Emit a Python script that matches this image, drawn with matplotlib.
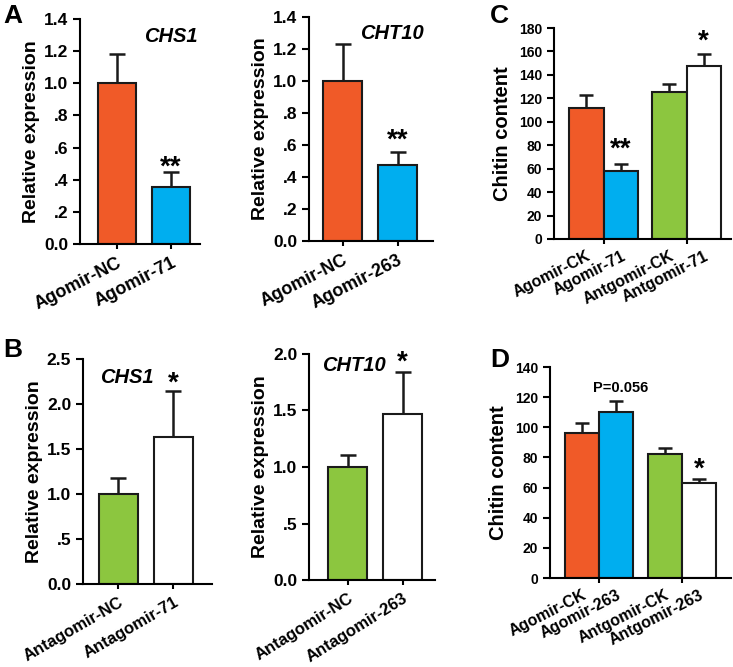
import matplotlib
matplotlib.use("Agg")
import matplotlib.pyplot as plt

plt.rcParams['font.family'] = ['Liberation Sans', 'DejaVu Sans']
plt.rcParams['font.weight'] = 'bold'
plt.rcParams['axes.labelweight'] = 'bold'
plt.rcParams['axes.linewidth'] = 1.5

ORANGE = '#F05A28'
BLUE = '#00AEEF'
GREEN = '#8CC63F'
WHITE = '#FFFFFF'

# panel A
a1_labels = ['Agomir-NC', 'Agomir-71']
a1_means = [1.0, 0.355]
a1_err = [0.18, 0.09]
a2_labels = ['Agomir-NC', 'Agomir-263']
a2_means = [1.0, 0.475]
a2_err = [0.23, 0.08]
a_ticks = [0.0, 0.2, 0.4, 0.6, 0.8, 1.0, 1.2, 1.4]
a_ticklabels = ['0.0', '.2', '.4', '.6', '.8', '1.0', '1.2', '1.4']

# panel B
b1_labels = ['Antagomir-NC', 'Antagomir-71']
b1_means = [1.0, 1.63]
b1_err = [0.18, 0.52]
b2_labels = ['Antagomir-NC', 'Antagomir-263']
b2_means = [1.0, 1.47]
b2_err = [0.11, 0.37]
b1_ticks = [0.0, 0.5, 1.0, 1.5, 2.0, 2.5]
b1_ticklabels = ['0.0', '.5', '1.0', '1.5', '2.0', '2.5']
b2_ticks = [0.0, 0.5, 1.0, 1.5, 2.0]
b2_ticklabels = ['0.0', '.5', '1.0', '1.5', '2.0']

# panel C / D
c_labels = ['Agomir-CK', 'Agomir-71', 'Antgomir-CK', 'Antgomir-71']
c_means = [112, 58, 125, 148]
c_err = [11, 6, 7, 10]
d_labels = ['Agomir-CK', 'Agomir-263', 'Antgomir-CK', 'Antgomir-263']
d_means = [96, 110.5, 82, 63]
d_err = [7, 7, 4, 3]

fig = plt.figure(figsize=(7.33, 6.67), dpi=100)


def style(ax):
    for s in ['top', 'right']:
        ax.spines[s].set_visible(False)
    ax.tick_params(axis='y', direction='out', length=5, width=1.5)


def two_bar(rect, labels, means, err, colors, ticks, ticklabels, xlim, ylim,
            gene, gene_xy, stars, star_xy, fs_x=13, rot=27):
    ax = fig.add_axes(rect)
    x = list(range(len(means)))
    ax.bar(x, means, width=0.71, color=colors, edgecolor='#1a1a1a', linewidth=1.5, zorder=2)
    ax.errorbar(x, means, yerr=[[0] * len(err), err], fmt='none', ecolor='#1a1a1a',
                elinewidth=1.8, capsize=5.5, capthick=1.8, zorder=1)
    ax.set_xlim(*xlim)
    ax.set_ylim(*ylim)
    ax.set_yticks(ticks)
    ax.set_yticklabels(ticklabels, fontsize=12.5)
    ax.set_xticks(x)
    ax.set_xticklabels(labels, rotation=rot, ha='right', rotation_mode='anchor', fontsize=fs_x)
    ax.tick_params(axis='x', direction='inout', length=7, width=1.5, pad=4)
    ax.set_ylabel('Relative expression', fontsize=14, labelpad=3)
    ax.text(gene_xy[0], gene_xy[1], gene, fontsize=14.5, style='italic', ha='center', va='center')
    ax.text(star_xy[0], star_xy[1], stars, fontsize=20, ha='center', va='baseline')
    style(ax)
    return ax


def four_bar(rect, labels, means, err, pos, xlim, ylim, ymax_tick):
    ax = fig.add_axes(rect)
    colors = [ORANGE, BLUE, GREEN, WHITE]
    ax.bar(pos, means, width=1.0, color=colors, edgecolor='#1a1a1a', linewidth=1.5, zorder=2)
    ax.errorbar(pos, means, yerr=[[0] * len(err), err], fmt='none', ecolor='#1a1a1a',
                elinewidth=1.8, capsize=5, capthick=1.8, zorder=1)
    ax.set_xlim(*xlim)
    ax.set_ylim(*ylim)
    ax.set_yticks(range(0, ymax_tick + 1, 20))
    ax.tick_params(axis='y', labelsize=10)
    ax.set_xticks(pos)
    ax.set_xticklabels(labels, rotation=27, ha='right', rotation_mode='anchor', fontsize=11.5)
    ax.tick_params(axis='x', which='major', length=0, pad=7)
    ax.set_xticks([(pos[0] + pos[1]) / 2, (pos[2] + pos[3]) / 2], minor=True)
    ax.tick_params(axis='x', which='minor', direction='inout', length=7, width=1.5)
    ax.set_ylabel('Chitin content', fontsize=14.5, labelpad=5)
    style(ax)
    return ax


two_bar([0.1091, 0.6342, 0.1637, 0.3373], a1_labels, a1_means, a1_err, [ORANGE, BLUE],
        a_ticks, a_ticklabels, (-0.685, 1.537), (0, 1.4), 'CHS1', (1.0, 1.29), '**', (1.0, 0.43))
two_bar([0.4216, 0.6387, 0.1692, 0.3358], a2_labels, a2_means, a2_err, [ORANGE, BLUE],
        a_ticks, a_ticklabels, (-0.609, 1.645), (0, 1.4), 'CHT10', (0.89, 1.30), '**', (1.0, 0.585))
two_bar([0.1132, 0.1244, 0.1760, 0.3373], b1_labels, b1_means, b1_err, [GREEN, WHITE],
        b1_ticks, b1_ticklabels, (-0.645, 1.70), (0, 2.5), 'CHS1', (0.145, 2.30), '*', (1.0, 2.15),
        fs_x=12, rot=30)
two_bar([0.4216, 0.1297, 0.1719, 0.3403], b2_labels, b2_means, b2_err, [GREEN, WHITE],
        b2_ticks, b2_ticklabels, (-0.70, 1.59), (0, 2.0), 'CHT10', (0.12, 1.89), '*', (1.0, 1.855),
        fs_x=12, rot=32)

four_bar([0.7558, 0.6417, 0.2415, 0.3163], c_labels, c_means, c_err, [0, 1, 2.4, 3.4],
         (-0.94, 4.19), (0, 180), 180)
axc = fig.axes[-1]
axc.text(1, 70, '**', fontsize=20, ha='center', va='baseline')
axc.text(3.4, 162, '*', fontsize=20, ha='center', va='baseline')

four_bar([0.7503, 0.1334, 0.2469, 0.3163], d_labels, d_means, d_err, [0, 1, 2.44, 3.44],
         (-0.94, 4.38), (0, 140), 140)
axd = fig.axes[-1]
axd.text(1.15, 126, 'P=0.056', fontsize=10.5, ha='center', va='center')
axd.text(3.44, 67, '*', fontsize=20, ha='center', va='baseline')

# panel letters
for letter, (px, py) in {'A': (3, 23), 'B': (3, 357), 'C': (490, 23), 'D': (490, 367)}.items():
    fig.text(px / 733, 1 - py / 667, letter, fontsize=19, ha='left', va='baseline')

fig.savefig('out.png', dpi=100)
